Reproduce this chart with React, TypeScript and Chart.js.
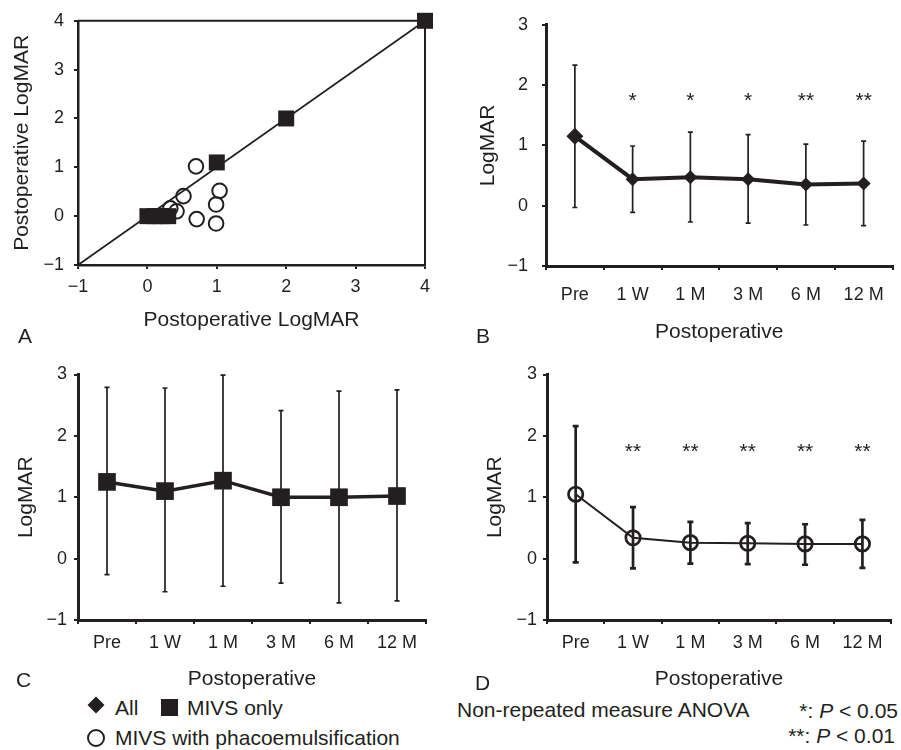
import React, { useEffect, useRef } from 'react';
import { Chart, registerables } from 'chart.js';

Chart.register(...registerables);

const FONT = '"Liberation Sans", Arial, sans-serif';
const INK = '#231f20';
Chart.defaults.font.family = FONT;
Chart.defaults.color = INK;

// ---- Panel A: scatter (MIVS only = squares, MIVS with phaco = circles)
const aSquareX = [0, 0.1, 0.2, 0.3, 1.0, 2.0, 4.0];
const aSquareY = [0, 0, 0, 0, 1.1, 2.0, 4.0];
const aCircleX = [0.7, 0.52, 0.42, 0.33, 1.04, 0.99, 0.71, 0.99];
const aCircleY = [1.02, 0.41, 0.1, 0.16, 0.52, 0.24, -0.06, -0.15];
const aIdentityX = [-1, 4];
const aIdentityY = [-1, 4];

// ---- Panels B, C, D: time course
const timepoints = ['Pre', '1 W', '1 M', '3 M', '6 M', '12 M'];

const allMean = [1.15, 0.44, 0.47, 0.44, 0.35, 0.37];
const allUpper = [2.33, 0.99, 1.22, 1.18, 1.02, 1.07];
const allLower = [-0.03, -0.11, -0.27, -0.29, -0.32, -0.33];
const allStars = ['', '*', '*', '*', '**', '**'];

const mivsOnlyMean = [1.25, 1.1, 1.27, 1.0, 1.0, 1.02];
const mivsOnlyUpper = [2.79, 2.78, 2.99, 2.41, 2.73, 2.75];
const mivsOnlyLower = [-0.26, -0.54, -0.45, -0.4, -0.72, -0.69];
const mivsOnlyStars = ['', '', '', '', '', ''];

const phacoMean = [1.05, 0.34, 0.26, 0.25, 0.24, 0.24];
const phacoUpper = [2.16, 0.84, 0.6, 0.58, 0.56, 0.63];
const phacoLower = [-0.06, -0.16, -0.08, -0.09, -0.1, -0.15];
const phacoStars = ['', '**', '**', '**', '**', '**'];

const minusFmt = (v: any) => String(v).replace('-', '\u2212');
const tickFont = { family: FONT, size: 18 };
const titleFont = { family: FONT, size: 21 };

function ScatterPanel() {
  const ref = useRef<HTMLCanvasElement>(null);
  useEffect(() => {
    const W = 450, H = 345, L = 78, R = 425, T = 16, B = 265;
    const frame = {
      id: 'frame',
      afterDraw(chart: any) {
        const { ctx, chartArea: a } = chart;
        ctx.save();
        ctx.strokeStyle = INK;
        ctx.lineWidth = 2;
        ctx.beginPath();
        ctx.moveTo(a.left, a.top);
        ctx.lineTo(a.right, a.top);
        ctx.lineTo(a.right, a.bottom);
        ctx.stroke();
        ctx.restore();
      },
    };
    const axis = (titlePad: any, tickPad: number, fit: (s: any) => void) => ({
      type: 'linear' as const,
      min: -1,
      max: 4,
      ticks: { stepSize: 1, color: INK, font: tickFont, padding: tickPad, callback: minusFmt },
      grid: { display: true, drawOnChartArea: false, drawTicks: true, tickLength: 4, color: INK, lineWidth: 2 },
      border: { display: true, color: INK, width: 2.5 },
      title: { display: true, text: 'Postoperative LogMAR', color: INK, font: titleFont, padding: titlePad },
      afterFit: fit,
    });
    const chart = new Chart(ref.current as HTMLCanvasElement, {
      type: 'scatter',
      data: {
        datasets: [
          {
            data: aSquareX.map((x, i) => ({ x, y: aSquareY[i] })),
            pointStyle: 'rect',
            pointRadius: 11.3,
            pointBackgroundColor: INK,
            pointBorderWidth: 0,
            clip: false,
          } as any,
          {
            data: aCircleX.map((x, i) => ({ x, y: aCircleY[i] })),
            pointStyle: 'circle',
            pointRadius: 7.3,
            pointBackgroundColor: 'rgba(0,0,0,0)',
            pointBorderColor: INK,
            pointBorderWidth: 2,
            clip: false,
          },
          {
            data: aIdentityX.map((x, i) => ({ x, y: aIdentityY[i] })),
            showLine: true,
            borderColor: INK,
            borderWidth: 1.7,
            pointRadius: 0,
            clip: false,
          },
        ],
      },
      options: {
        responsive: false,
        animation: false,
        events: [],
        layout: { padding: { left: 0, top: T, right: W - R, bottom: 0 } },
        plugins: { legend: { display: false }, tooltip: { enabled: false } },
        scales: {
          x: axis({ top: 0, bottom: 12.4 }, 7, (s: any) => { s.height = H - B; }),
          y: axis({ top: 9.4, bottom: 0 }, 10, (s: any) => { s.width = L; }),
        },
      },
      plugins: [frame],
    });
    return () => chart.destroy();
  }, []);
  return <canvas ref={ref} width={450} height={345} style={{ position: 'absolute', left: 0, top: 0, display: 'block' }} />;
}

type TP = {
  left: number; top: number; width: number; height: number;
  cl: number; cr: number; ct: number; cb: number;
  mean: number[]; upper: number[]; lower: number[]; stars: string[]; starLevel: number;
  pointStyle: any; pointRadius: any; pointBorderWidth: number; pointFill: string;
  lineWidth: number; errWidth: number; cap: number;
  yTitlePad: number; yTickPad: number; xTickPad: number; xTitlePad: number;
};

function TimePanel(p: TP) {
  const ref = useRef<HTMLCanvasElement>(null);
  useEffect(() => {
    const bars = {
      id: 'errorBars',
      beforeDatasetsDraw(chart: any) {
        const { ctx } = chart;
        const xs = chart.scales.x, ys = chart.scales.y;
        ctx.save();
        ctx.strokeStyle = INK;
        ctx.lineWidth = p.errWidth;
        p.upper.forEach((u, i) => {
          const px = xs.getPixelForValue(i);
          const t = ys.getPixelForValue(u);
          const b = ys.getPixelForValue(p.lower[i]);
          ctx.beginPath();
          ctx.moveTo(px, t);
          ctx.lineTo(px, b);
          ctx.moveTo(px - p.cap, t);
          ctx.lineTo(px + p.cap, t);
          ctx.moveTo(px - p.cap, b);
          ctx.lineTo(px + p.cap, b);
          ctx.stroke();
        });
        ctx.restore();
      },
      afterDatasetsDraw(chart: any) {
        const { ctx } = chart;
        const xs = chart.scales.x, ys = chart.scales.y;
        ctx.save();
        ctx.fillStyle = INK;
        ctx.font = `21px ${FONT}`;
        ctx.textAlign = 'center';
        ctx.textBaseline = 'alphabetic';
        p.stars.forEach((s, i) => {
          if (!s) return;
          ctx.fillText(s, xs.getPixelForValue(i), ys.getPixelForValue(p.starLevel) + 0.57 * 21);
        });
        ctx.restore();
      },
    };
    const chart = new Chart(ref.current as HTMLCanvasElement, {
      type: 'line',
      data: {
        labels: timepoints,
        datasets: [
          {
            data: p.mean,
            borderColor: INK,
            borderWidth: p.lineWidth,
            tension: 0,
            fill: false,
            pointStyle: p.pointStyle,
            pointRadius: p.pointRadius,
            pointBackgroundColor: p.pointFill,
            pointBorderColor: INK,
            pointBorderWidth: p.pointBorderWidth,
            clip: false,
          } as any,
        ],
      },
      options: {
        responsive: false,
        animation: false,
        events: [],
        layout: { padding: { left: 0, top: p.ct, right: p.width - p.cr, bottom: 0 } },
        plugins: { legend: { display: false }, tooltip: { enabled: false } },
        scales: {
          x: {
            type: 'category',
            offset: true,
            ticks: { color: INK, font: tickFont, padding: p.xTickPad, maxRotation: 0, minRotation: 0, autoSkip: false },
            grid: { display: true, offset: true, drawOnChartArea: false, drawTicks: true, tickLength: 4, color: INK, lineWidth: 2 },
            border: { display: true, color: INK, width: 3 },
            title: { display: true, text: 'Postoperative', color: INK, font: titleFont, padding: { top: 0, bottom: p.xTitlePad } },
            afterFit: (s: any) => { s.height = p.height - p.cb; },
          },
          y: {
            type: 'linear',
            min: -1,
            max: 3,
            ticks: { stepSize: 1, color: INK, font: tickFont, padding: p.yTickPad, callback: minusFmt },
            grid: { display: true, drawOnChartArea: false, drawTicks: true, tickLength: 4, color: INK, lineWidth: 2 },
            border: { display: true, color: INK, width: 3 },
            title: { display: true, text: 'LogMAR', color: INK, font: titleFont, padding: { top: p.yTitlePad, bottom: 0 } },
            afterFit: (s: any) => { s.width = p.cl; },
          },
        },
      },
      plugins: [bars],
    });
    return () => chart.destroy();
  }, []);
  return <canvas ref={ref} width={p.width} height={p.height} style={{ position: 'absolute', left: p.left, top: p.top, display: 'block' }} />;
}

function Txt(props: { x?: number; right?: number; y: number; children: any }) {
  const s: any = { position: 'absolute', top: props.y, fontSize: 21, lineHeight: '21px', whiteSpace: 'nowrap' };
  if (props.right !== undefined) s.right = props.right; else s.left = props.x;
  return <div style={s}>{props.children}</div>;
}

export default function App() {
  useEffect(() => {
    document.body.style.margin = '0';
  }, []);
  return (
    <div style={{ position: 'relative', width: 901, height: 750, background: '#fff', fontFamily: FONT, color: INK, overflow: 'hidden' }}>
      <ScatterPanel />
      <TimePanel
        left={450} top={0} width={451} height={350} cl={96} cr={447} ct={18} cb={266}
        mean={allMean} upper={allUpper} lower={allLower} stars={allStars} starLevel={1.83}
        pointStyle="rectRot" pointRadius={[8.5, 7, 7, 7, 7, 7]} pointBorderWidth={0} pointFill={INK}
        lineWidth={4} errWidth={1.7} cap={2.5}
        yTitlePad={26} yTickPad={14} xTickPad={14} xTitlePad={5.4}
      />
      <TimePanel
        left={2} top={355} width={448} height={340} cl={76} cr={424} ct={19.5} cb={265}
        mean={mivsOnlyMean} upper={mivsOnlyUpper} lower={mivsOnlyLower} stars={mivsOnlyStars} starLevel={1.8}
        pointStyle="rect" pointRadius={12.5} pointBorderWidth={0} pointFill={INK}
        lineWidth={3.5} errWidth={1.7} cap={2.5}
        yTitlePad={11.4} yTickPad={7} xTickPad={8} xTitlePad={3.4}
      />
      <TimePanel
        left={450} top={355} width={451} height={340} cl={97} cr={446} ct={19.5} cb={265}
        mean={phacoMean} upper={phacoUpper} lower={phacoLower} stars={phacoStars} starLevel={1.84}
        pointStyle="circle" pointRadius={7.2} pointBorderWidth={2.7} pointFill="rgba(0,0,0,0)"
        lineWidth={2} errWidth={2.7} cap={3}
        yTitlePad={32.4} yTickPad={6} xTickPad={8} xTitlePad={3.4}
      />

      <Txt x={18} y={325}>A</Txt>
      <Txt x={476} y={325}>B</Txt>
      <Txt x={16} y={669}>C</Txt>
      <Txt x={475} y={672}>D</Txt>

      {/* legend */}
      <div style={{ position: 'absolute', left: 90, top: 699, width: 12, height: 12, background: INK, transform: 'rotate(45deg)' }} />
      <Txt x={115} y={697}>All</Txt>
      <div style={{ position: 'absolute', left: 160.5, top: 698.5, width: 17, height: 17, background: INK }} />
      <Txt x={187} y={697}>MIVS only</Txt>
      <div style={{ position: 'absolute', left: 87, top: 729, width: 18, height: 18, border: `2.5px solid ${INK}`, borderRadius: '50%', boxSizing: 'border-box' }} />
      <Txt x={115} y={727}>MIVS with phacoemulsification</Txt>

      {/* statistics note */}
      <Txt x={457} y={699}>Non-repeated measure ANOVA</Txt>
      <Txt right={3} y={700}>*: <i>P</i> &lt; 0.05</Txt>
      <Txt right={6} y={725}>**: <i>P</i> &lt; 0.01</Txt>
    </div>
  );
}
